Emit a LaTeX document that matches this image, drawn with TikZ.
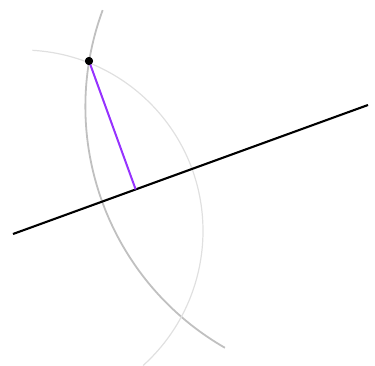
\documentclass[tikz,border=0pt]{standalone}
\usetikzlibrary{calc}
\definecolor{perpcol}{RGB}{150,50,255}
\definecolor{arcdark}{RGB}{192,192,192}
\definecolor{arclight}{RGB}{224,224,224}
\tikzset{
  baseline/.style={line width=2.1pt, black},
  perpline/.style={line width=2pt, perpcol},
  arcA/.style={line width=1.8pt, arcdark},
  arcB/.style={line width=1.2pt, arclight},
  ptdot/.style={circle, fill=black, inner sep=0pt, minimum size=8pt}
}
\begin{document}
\begin{tikzpicture}[x=1pt,y=1pt]
  \useasboundingbox (0,0) rectangle (375,365);
  \clip (0,0) rectangle (375,365);
  % centres of the construction arcs
  \coordinate (C1) at (363.6,258.4);
  \coordinate (C2) at (22,134);
  % arcs
  \draw[arcA] ($(C1)+(159.7:278.2)$) arc[start angle=159.7, end angle=240.1, radius=278.2];
  \draw[arcB] ($(C2)+(86.7:181)$) arc[start angle=86.7, end angle=-48, radius=181];
  % line
  \coordinate (A) at (13,131);
  \coordinate (B) at (368,260);
  \draw[baseline] (A) -- (B);
  % point and perpendicular
  \node[ptdot] (P) at (89,304) {};
  \coordinate (F) at ($(A)!(P)!(B)$);
  \draw[perpline] (P.center) -- (F);
  \node[ptdot] at (P) {};
\end{tikzpicture}
\end{document}
